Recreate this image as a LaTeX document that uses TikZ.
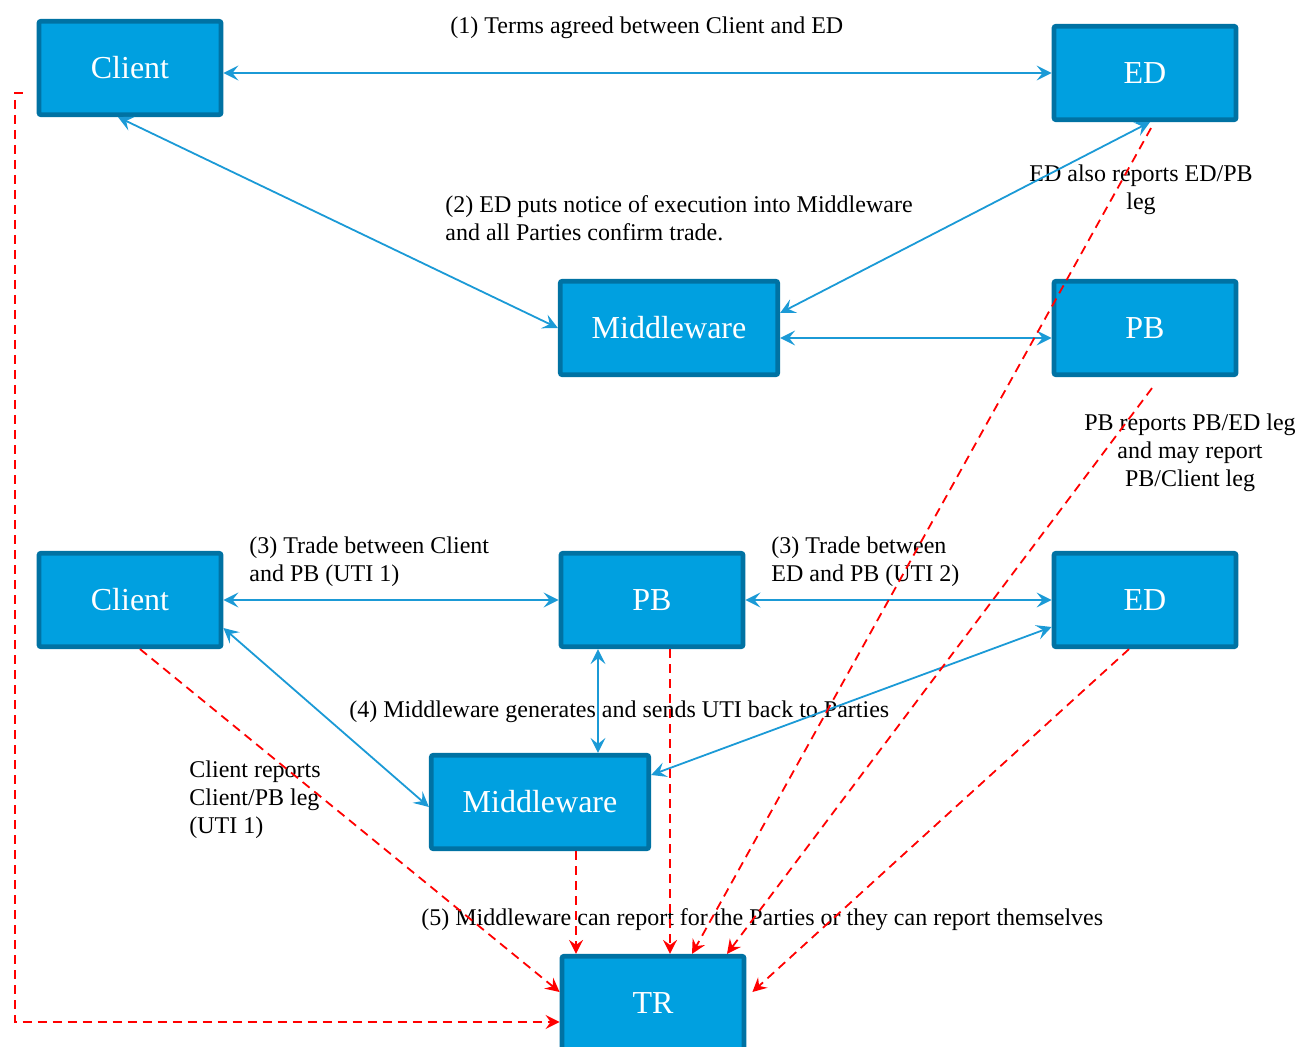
\documentclass[tikz,border=0pt]{standalone}
\usepackage{fontspec}
\setmainfont{Liberation Serif}
\usepackage{tikz}
\usetikzlibrary{arrows.meta}
\definecolor{boxfill}{RGB}{0,160,224}
\definecolor{boxline}{RGB}{0,114,163}
\definecolor{linkblue}{RGB}{27,154,214}
\tikzstyle{party}=[rectangle, draw=boxline, fill=boxfill, line width=2.4pt, rounded corners=1pt, minimum width=91pt, minimum height=46.7pt, inner sep=0pt, text=white, font=\fontsize{16}{19}\selectfont]
\tikzstyle{wideparty}=[party, minimum width=108.7pt]
\tikzstyle{note}=[inner sep=0pt, font=\fontsize{12}{14}\selectfont]
\tikzstyle{link}=[draw=linkblue, line width=0.9pt, {Stealth[length=7.5pt,width=7.5pt,inset=3pt]}-{Stealth[length=7.5pt,width=7.5pt,inset=3pt]}]
\tikzstyle{report}=[draw=red, line width=0.9pt, dash pattern=on 4.5pt off 3pt, -{Stealth[length=7pt,width=7pt,inset=2.5pt]}]
\newcommand{\party}{\node[party]}

\begin{document}
\begin{tikzpicture}[x=0.5pt, y=-0.5pt]
\useasboundingbox (0,0) rectangle (1299,1047);
\party (cl1) at (130,68) {Client};
\party (ed1) at (1145,73) {ED};
\node[wideparty] (mw1) at (669,328) {Middleware};
\party (pb1) at (1145,328) {PB};
\party (cl2) at (130,600) {Client};
\party (pb2) at (652,600) {PB};
\party (ed2) at (1145,600) {ED};
\node[wideparty] (mw2) at (540,802) {Middleware};
\party (tr) at (653,1003) {TR};

% labels
\node[note, anchor=west] (n1) at (450,28) {(1) Terms agreed between Client and ED};
\node[note, anchor=west, align=left] (n2) at (445,218) {(2) ED puts notice of execution into Middleware\\and all Parties confirm trade.};
\node[note, align=center] (ned) at (1141,190) {ED also reports ED/PB\\leg};
\node[note, align=center] (npb) at (1190,453) {PB reports PB/ED leg\\and may report\\PB/Client leg};
\node[note, anchor=west, align=left] (n3a) at (249,562) {(3) Trade between Client\\and PB (UTI 1)};
\node[note, anchor=west, align=left] (n3b) at (771,562) {(3) Trade between\\ED and PB (UTI 2)};
\node[note, anchor=west] (n4) at (349,712) {(4) Middleware generates and sends UTI back to Parties};
\node[note, anchor=west, align=left] (ncl) at (189,800) {Client reports\\Client/PB leg\\(UTI 1)};
\node[note, anchor=west] (n5) at (421,920) {(5) Middleware can report for the Parties or they can report themselves};

% confirmations
\path
(ed1.west -| cl1.east) edge[link] (ed1.west)
([xshift=-6pt]cl1.south) edge[link] (mw1.west)
([xshift=2.5pt]ed1.south) edge[link] ([yshift=7.5pt]mw1.east)
([yshift=-5pt]mw1.east) edge[link] ([yshift=-5pt]pb1.west)
(cl2.east) edge[link] (pb2.west)
(pb2.east) edge[link] (pb2.east -| ed2.west)
([yshift=-14pt]cl2.east) edge[link] ([yshift=-2.5pt]mw2.west)
([xshift=-27pt]pb2.south) edge[link] ([xshift=29pt]mw2.north)
([yshift=-13.5pt]ed2.west) edge[link] ([yshift=13.5pt]mw2.east)
;

% reporting
\draw[report] ([xshift=-7pt,yshift=-12.5pt]cl1.west) -- ++(-4pt,0) |- ([yshift=-9.5pt]tr.west);
\draw[report] ([xshift=5pt]cl2.south) -- ([yshift=5.5pt]tr.west);
\draw[report] ([xshift=18pt]mw2.south) coordinate (m) -- (m |- tr.north);
\draw[report] ([xshift=9pt]pb2.south) coordinate (p) -- (p |- tr.north);
\draw[report] ([xshift=3pt,yshift=-3pt]ed1.south) -- ([xshift=19.5pt]tr.north);
\draw[report] ([xshift=3.5pt,yshift=-5.5pt]pb1.south) -- ([xshift=37pt]tr.north);
\draw[report] ([xshift=-8pt]ed2.south) -- ([xshift=3pt,yshift=5.5pt]tr.east);
\end{tikzpicture}
\end{document}
